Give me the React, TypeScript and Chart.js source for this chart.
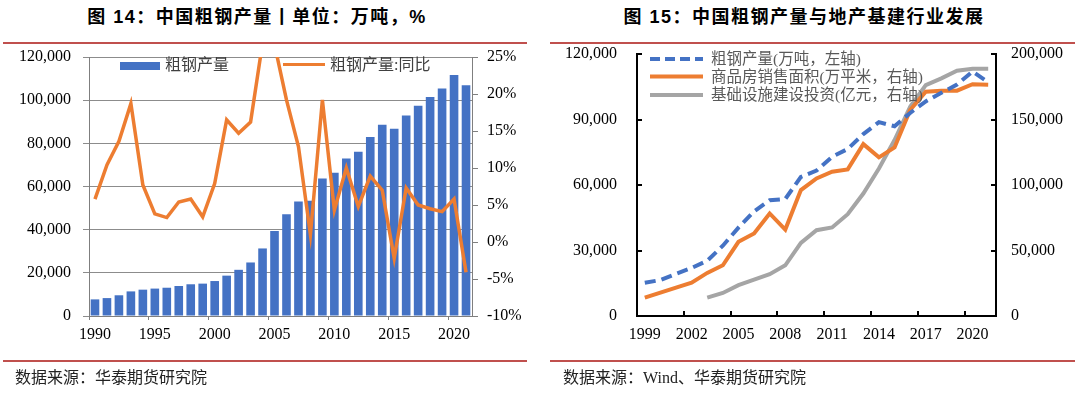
import React, { useEffect, useRef } from 'react';
import { Chart, registerables } from 'chart.js';

Chart.register(...registerables);

// ---------- Figure 14: crude steel output (万吨) and YoY (%) ----------
const years1 = [
  1990, 1991, 1992, 1993, 1994, 1995, 1996, 1997, 1998, 1999,
  2000, 2001, 2002, 2003, 2004, 2005, 2006, 2007, 2008, 2009,
  2010, 2011, 2012, 2013, 2014, 2015, 2016, 2017, 2018, 2019,
  2020, 2021,
];
const steelOutput1 = [
  7700, 8300, 9600, 11400, 12200, 12700, 13100, 13900, 14700, 15000,
  16200, 18700, 21400, 24800, 31300, 39400, 47200, 53100, 53400, 63700,
  66400, 73000, 76100, 82900, 88600, 86700, 92900, 97400, 101500, 105400,
  111700, 106900,
];
const steelYoY = [
  5.8, 10.4, 13.6, 18.7, 7.7, 3.8, 3.3, 5.4, 5.8, 3.4,
  7.9, 16.5, 14.7, 16.2, 26.9, 26.7, 19.2, 12.9, 1.0, 19.2,
  4.3, 10.0, 4.8, 8.9, 7.0, -2.2, 7.3, 5.0, 4.5, 4.1,
  5.8, -4.1,
];

// ---------- Figure 15: steel output vs property & infrastructure ----------
const years2 = [
  1999, 2000, 2001, 2002, 2003, 2004, 2005, 2006, 2007, 2008,
  2009, 2010, 2011, 2012, 2013, 2014, 2015, 2016, 2017, 2018,
  2019, 2020, 2021,
];
const steelOutput2 = [
  15200, 16500, 19300, 22000, 25300, 32200, 40500, 47900, 53000, 53600,
  63700, 66600, 72900, 76500, 83300, 88800, 86900, 93000, 98300, 102200,
  106000, 112000, 107100,
];
const housingSalesArea = [
  14000, 17900, 21700, 25500, 32900, 38700, 56600, 63000, 78300, 66000,
  96100, 105000, 110100, 111900, 131200, 121100, 128700, 157200, 171200, 172000,
  172000, 176900, 176600,
];
const infraInvestment = [
  null, null, null, null, 14000, 17600, 23500, 27800, 31900, 38700,
  55800, 65500, 67600, 77700, 93500, 112600, 134300, 159700, 176300, 181400,
  187200, 188800, 188800,
];

const BLUE = '#4472C4';
const ORANGE = '#ED7D31';
const GRAY = '#A5A5A5';
const RED_RULE = '#C0504D';
const SERIF = "'Liberation Serif', 'Times New Roman', serif";
const LEGEND_FONT = "'Liberation Serif', 'Noto Sans CJK SC', serif";
const TITLE_FONT = "'Liberation Sans', 'Noto Sans CJK SC', sans-serif";

const fmt = (v: number) => Number(v).toLocaleString('en-US');

export default function App() {
  const leftRef = useRef<HTMLCanvasElement | null>(null);
  const rightRef = useRef<HTMLCanvasElement | null>(null);

  useEffect(() => {
    const tickFont = { family: SERIF, size: 16 };
    const axisGray = '#7f7f7f';

    const c1 = new Chart(leftRef.current as HTMLCanvasElement, {
      type: 'bar',
      data: {
        labels: years1.map(String),
        datasets: [
          {
            type: 'line',
            label: '粗钢产量:同比',
            data: steelYoY,
            yAxisID: 'y1',
            borderColor: ORANGE,
            backgroundColor: ORANGE,
            borderWidth: 3.5,
            pointRadius: 0,
            tension: 0,
            clip: 0,
            order: 0,
          } as any,
          {
            type: 'bar',
            label: '粗钢产量',
            data: steelOutput1,
            yAxisID: 'y',
            backgroundColor: BLUE,
            borderWidth: 0,
            barPercentage: 0.72,
            categoryPercentage: 1,
            order: 1,
          },
        ],
      },
      options: {
        responsive: false,
        animation: false,
        devicePixelRatio: 1,
        layout: { padding: { top: 57, left: 0, right: 0, bottom: 0 } },
        plugins: { legend: { display: false }, tooltip: { enabled: false } },
        scales: {
          x: {
            type: 'category',
            offset: true,
            afterFit: (s: any) => { s.height = 78; },
            grid: {
              offset: true,
              drawOnChartArea: false,
              tickLength: 4,
              color: (ctx: any) =>
                ctx.index !== undefined && ctx.index % 5 === 0 ? axisGray : 'rgba(0,0,0,0)',
            },
            border: { display: true, color: axisGray, width: 1 },
            ticks: {
              autoSkip: false,
              maxRotation: 0,
              minRotation: 0,
              padding: 5,
              color: '#000',
              font: tickFont,
              callback: (_v: any, i: number) => (years1[i] % 5 === 0 ? String(years1[i]) : ''),
            },
          },
          y: {
            position: 'left',
            min: 0,
            max: 120000,
            afterFit: (s: any) => { s.width = 89; },
            grid: { color: '#8c8c8c', lineWidth: 1, tickLength: 6 },
            border: { display: true, color: axisGray, width: 1 },
            ticks: { stepSize: 20000, padding: 12, color: '#000', font: tickFont, callback: (v: any) => fmt(v) },
          },
          y1: {
            position: 'right',
            min: -10,
            max: 25,
            afterFit: (s: any) => { s.width = 68; },
            grid: { drawOnChartArea: false, color: axisGray, tickLength: 6 },
            border: { display: true, color: axisGray, width: 1 },
            ticks: { stepSize: 5, padding: 9, color: '#000', font: tickFont, callback: (v: any) => `${v}%` },
          },
        },
      } as any,
    });

    const c2 = new Chart(rightRef.current as HTMLCanvasElement, {
      type: 'line',
      data: {
        labels: years2.map(String),
        datasets: [
          {
            label: '粗钢产量(万吨，左轴)',
            data: steelOutput2,
            yAxisID: 'y',
            borderColor: BLUE,
            backgroundColor: BLUE,
            borderWidth: 4,
            borderDash: [11, 6],
            pointRadius: 0,
            tension: 0,
            order: 0,
          },
          {
            label: '商品房销售面积(万平米，右轴)',
            data: housingSalesArea,
            yAxisID: 'y1',
            borderColor: ORANGE,
            backgroundColor: ORANGE,
            borderWidth: 4,
            pointRadius: 0,
            tension: 0,
            order: 1,
          },
          {
            label: '基础设施建设投资(亿元，右轴)',
            data: infraInvestment,
            yAxisID: 'y1',
            borderColor: GRAY,
            backgroundColor: GRAY,
            borderWidth: 4,
            pointRadius: 0,
            tension: 0,
            spanGaps: false,
            order: 2,
          },
        ],
      },
      options: {
        responsive: false,
        animation: false,
        devicePixelRatio: 1,
        layout: { padding: { top: 54, left: 0, right: 0, bottom: 0 } },
        plugins: { legend: { display: false }, tooltip: { enabled: false } },
        scales: {
          x: {
            type: 'category',
            offset: true,
            afterFit: (s: any) => { s.height = 78; },
            grid: {
              offset: true,
              drawOnChartArea: false,
              tickLength: -5,
              lineWidth: 2,
              color: (ctx: any) =>
                ctx.index !== undefined && ctx.index % 3 === 0 ? '#000' : 'rgba(0,0,0,0)',
            },
            border: { display: true, color: '#000', width: 2 },
            ticks: {
              autoSkip: false,
              maxRotation: 0,
              minRotation: 0,
              padding: 14,
              color: '#000',
              font: tickFont,
              callback: (_v: any, i: number) => ((years2[i] - 1999) % 3 === 0 ? String(years2[i]) : ''),
            },
          },
          y: {
            position: 'left',
            min: 0,
            max: 120000,
            afterFit: (s: any) => { s.width = 97; },
            grid: { drawOnChartArea: false, color: '#000', lineWidth: 2, tickLength: -5 },
            border: { display: true, color: '#000', width: 2 },
            ticks: { stepSize: 30000, padding: 25, color: '#000', font: tickFont, callback: (v: any) => fmt(v) },
          },
          y1: {
            position: 'right',
            min: 0,
            max: 200000,
            afterFit: (s: any) => { s.width = 84; },
            grid: { drawOnChartArea: false, color: '#000', lineWidth: 2, tickLength: -5 },
            border: { display: true, color: '#000', width: 2 },
            ticks: { stepSize: 50000, padding: 20, color: '#000', font: tickFont, callback: (v: any) => fmt(v) },
          },
        },
      } as any,
    });

    return () => {
      c1.destroy();
      c2.destroy();
    };
  }, []);

  const abs = (s: React.CSSProperties): React.CSSProperties => ({ position: 'absolute', ...s });

  const titleStyle: React.CSSProperties = {
    position: 'absolute',
    top: 4,
    height: 26,
    lineHeight: '26px',
    fontFamily: TITLE_FONT,
    fontWeight: 700,
    fontSize: 18,
    letterSpacing: '1.5px',
    color: '#000',
    textAlign: 'center',
    whiteSpace: 'nowrap',
  };
  const sourceStyle: React.CSSProperties = {
    position: 'absolute',
    top: 366,
    height: 24,
    lineHeight: '24px',
    fontFamily: "'Liberation Serif', 'Noto Sans CJK SC', serif",
    fontSize: 16,
    color: '#222',
    whiteSpace: 'nowrap',
  };
  const legendText: React.CSSProperties = {
    position: 'absolute',
    fontFamily: LEGEND_FONT,
    fontSize: 16,
    lineHeight: '20px',
    height: 20,
    color: '#404040',
    whiteSpace: 'nowrap',
  };
  const legendText2: React.CSSProperties = { ...legendText, fontSize: 15.5, color: '#595959' };

  return (
    <div style={{ position: 'absolute', left: 0, top: 0, width: 1080, height: 394, background: '#fff', overflow: 'hidden' }}>
      {/* Figure 14 */}
      <div style={{ ...titleStyle, left: 3, width: 508 }}>图 14：中国粗钢产量丨单位：万吨，%</div>
      <div style={abs({ left: 3, top: 42, width: 524, height: 2, background: RED_RULE })} />
      <canvas ref={leftRef} width={540} height={394} style={abs({ left: 0, top: 0, width: 540, height: 394 })} />
      <div style={abs({ left: 120, top: 62, width: 40, height: 8, background: BLUE })} />
      <div style={{ ...legendText, left: 165, top: 55 }}>粗钢产量</div>
      <div style={abs({ left: 283, top: 62.5, width: 42, height: 3.5, background: ORANGE })} />
      <div style={{ ...legendText, left: 330, top: 55 }}>粗钢产量:同比</div>
      <div style={abs({ left: 3, top: 360, width: 524, height: 2, background: RED_RULE })} />
      <div style={{ ...sourceStyle, left: 15 }}>数据来源：华泰期货研究院</div>

      {/* Figure 15 */}
      <div style={{ ...titleStyle, left: 550, width: 508 }}>图 15：中国粗钢产量与地产基建行业发展</div>
      <div style={abs({ left: 550, top: 42, width: 525, height: 2, background: RED_RULE })} />
      <canvas ref={rightRef} width={540} height={394} style={abs({ left: 540, top: 0, width: 540, height: 394 })} />
      <svg style={abs({ left: 649, top: 52, width: 56, height: 50 })} width={56} height={50}>
        <line x1={1} y1={7} x2={54} y2={7} stroke={BLUE} strokeWidth={4} strokeDasharray="10,5" />
        <line x1={1} y1={24.5} x2={54} y2={24.5} stroke={ORANGE} strokeWidth={4} />
        <line x1={1} y1={43} x2={54} y2={43} stroke={GRAY} strokeWidth={4} />
      </svg>
      <div style={{ ...legendText2, left: 711, top: 49 }}>粗钢产量(万吨，左轴)</div>
      <div style={{ ...legendText2, left: 711, top: 67 }}>商品房销售面积(万平米，右轴)</div>
      <div style={{ ...legendText2, left: 711, top: 85 }}>基础设施建设投资(亿元，右轴)</div>
      <div style={abs({ left: 550, top: 360, width: 525, height: 2, background: RED_RULE })} />
      <div style={{ ...sourceStyle, left: 563 }}>数据来源：Wind、华泰期货研究院</div>
    </div>
  );
}
